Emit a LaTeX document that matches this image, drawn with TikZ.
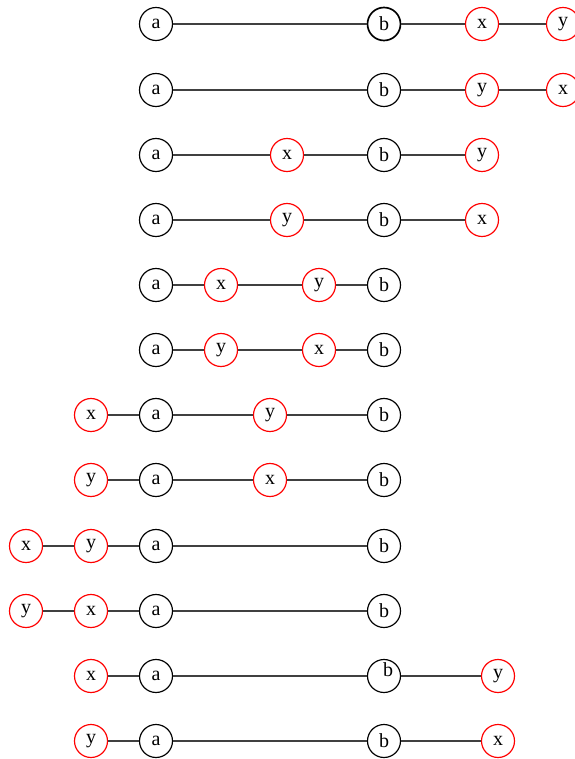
\documentclass[tikz,border=0pt]{standalone}
\usepackage{fontspec}
\setmainfont{Liberation Serif}
\tikzset{
  vtx/.style={circle,draw=black,line width=0.7pt,minimum size=19.8pt,inner sep=0pt},
  tok/.style={vtx,draw=red},
  edge/.style={draw=black!75,line width=0.7pt}
}
\begin{document}
\begin{tikzpicture}[x=0.6pt,y=-0.6pt,font=\fontsize{12}{14}\selectfont]
\useasboundingbox (0,0) rectangle (575,759);
% a b x y
\node[vtx] (a1) at (156,24) {a};
\node[vtx,line width=1pt] (b1) at (384,24) {b};
\node[tok] (x1) at (482,24) {x};
\node[tok] (y1) at (563,24) {y};
\draw[edge] (a1) -- (b1) -- (x1) -- (y1);
% a b y x
\node[vtx] (a2) at (156,90) {a};
\node[vtx] (b2) at (384,90) {b};
\node[tok] (y2) at (482,90) {y};
\node[tok] (x2) at (563,90) {x};
\draw[edge] (a2) -- (b2) -- (y2) -- (x2);
% a x b y
\node[vtx] (a3) at (156,155) {a};
\node[tok] (x3) at (287,155) {x};
\node[vtx] (b3) at (384,155) {b};
\node[tok] (y3) at (482,155) {y};
\draw[edge] (a3) -- (x3) -- (b3) -- (y3);
% a y b x
\node[vtx] (a4) at (156,220) {a};
\node[tok] (y4) at (287,220) {y};
\node[vtx] (b4) at (384,220) {b};
\node[tok] (x4) at (482,220) {x};
\draw[edge] (a4) -- (y4) -- (b4) -- (x4);
% a x y b
\node[vtx] (a5) at (156,285) {a};
\node[tok] (x5) at (221,285) {x};
\node[tok] (y5) at (319,285) {y};
\node[vtx] (b5) at (384,285) {b};
\draw[edge] (a5) -- (x5) -- (y5) -- (b5);
% a y x b
\node[vtx] (a6) at (156,350) {a};
\node[tok] (y6) at (221,350) {y};
\node[tok] (x6) at (319,350) {x};
\node[vtx] (b6) at (384,350) {b};
\draw[edge] (a6) -- (y6) -- (x6) -- (b6);
% x a y b
\node[tok] (x7) at (91,415) {x};
\node[vtx] (a7) at (156,415) {a};
\node[tok] (y7) at (270,415) {y};
\node[vtx] (b7) at (384,415) {b};
\draw[edge] (x7) -- (a7) -- (y7) -- (b7);
% y a x b
\node[tok] (y8) at (91,480) {y};
\node[vtx] (a8) at (156,480) {a};
\node[tok] (x8) at (270,480) {x};
\node[vtx] (b8) at (384,480) {b};
\draw[edge] (y8) -- (a8) -- (x8) -- (b8);
% x y a b
\node[tok] (x9) at (26,546) {x};
\node[tok] (y9) at (91,546) {y};
\node[vtx] (a9) at (156,546) {a};
\node[vtx] (b9) at (384,546) {b};
\draw[edge] (x9) -- (y9) -- (a9) -- (b9);
% y x a b
\node[tok] (y10) at (26,611) {y};
\node[tok] (x10) at (91,611) {x};
\node[vtx] (a10) at (156,611) {a};
\node[vtx] (b10) at (384,611) {b};
\draw[edge] (y10) -- (x10) -- (a10) -- (b10);
% x a b y
\node[tok] (x11) at (91,676) {x};
\node[vtx] (a11) at (156,676) {a};
\node[vtx,label={[xshift=2.4pt,yshift=3.6pt]center:b}] (b11) at (384,676) {};
\node[tok] (y11) at (498,676) {y};
\draw[edge] (x11) -- (a11) -- (b11) -- (y11);
% y a b x
\node[tok] (y12) at (91,741) {y};
\node[vtx] (a12) at (156,741) {a};
\node[vtx] (b12) at (384,741) {b};
\node[tok] (x12) at (498,741) {x};
\draw[edge] (y12) -- (a12) -- (b12) -- (x12);
\end{tikzpicture}
\end{document}
